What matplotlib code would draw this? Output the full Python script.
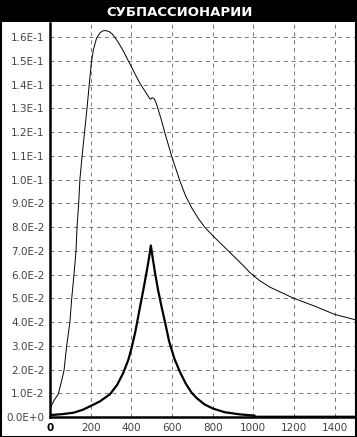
import numpy as np
import matplotlib
matplotlib.use("Agg")
import matplotlib.pyplot as plt
from matplotlib.patches import Rectangle

title = "СУБПАССИОНАРИИ"

# thin curve
thin_x = [0, 3, 20, 41, 55, 69, 82, 98, 106, 118, 128, 133, 141, 147, 158, 170,
          182, 193, 203, 213, 229, 246, 260, 274, 290, 303, 320, 336, 360, 385,
          415, 442, 470, 485, 493, 502, 512, 522, 532, 548, 565, 598, 639, 665,
          696, 730, 762, 800, 850, 900, 950, 983, 1030, 1081, 1196, 1310, 1400,
          1499]
thin_y = [0.0030, 0.0040, 0.0070, 0.0097, 0.0145, 0.0196, 0.0300, 0.0400, 0.0492,
          0.0600, 0.0700, 0.0800, 0.0900, 0.1000, 0.1100, 0.1200,
          0.1300, 0.1400, 0.1490, 0.1545, 0.1595, 0.1618, 0.1626, 0.1627, 0.1623,
          0.1615, 0.1598, 0.1577, 0.1542, 0.1500,
          0.1450, 0.1405, 0.1368, 0.1348, 0.1338, 0.1344, 0.1341, 0.1322, 0.1295,
          0.1250, 0.1196, 0.1099, 0.0994, 0.0935,
          0.0882, 0.0835, 0.0798, 0.0764, 0.0722, 0.0680, 0.0638, 0.0608, 0.0575,
          0.0547, 0.0501, 0.0464, 0.0432, 0.0410]

# thick curve
thick_x = [0, 60, 115, 160, 197, 246, 295, 330, 360, 385, 401, 420, 442, 460,
           475, 487, 496, 505, 516, 532, 549, 568, 586, 612, 639, 668, 696, 721,
           760, 803, 860, 934, 1005, 1007, 1500]
thick_y = [0.0008, 0.0012, 0.0018, 0.0030, 0.0045, 0.0066, 0.0096, 0.0135, 0.0185,
           0.0240, 0.0290, 0.0360, 0.0460, 0.0540, 0.0610, 0.0670, 0.0722,
           0.0670, 0.0610, 0.0532, 0.0463, 0.0390, 0.0318, 0.0245, 0.0190, 0.0140,
           0.0103, 0.0080, 0.0053, 0.0035, 0.0020, 0.0011, 0.0006, 0.0001, 0.0001]

x_ticks = [0, 200, 400, 600, 800, 1000, 1200, 1400]
y_ticks = [i / 100 for i in range(17)]
y_labels = ["0.0E+0"] + ["%d.0E-2" % i for i in range(1, 10)] + \
           ["1.%dE-1" % i for i in range(7)]

W, H = 357, 437
fig = plt.figure(figsize=(W / 100, H / 100), dpi=100)
fig.patch.set_facecolor("white")

# title bar and frame
fig.patches.append(Rectangle((0, 1 - 22 / H), 1, 22 / H, transform=fig.transFigure,
                             facecolor="black", edgecolor="none", zorder=0))
fig.patches.append(Rectangle((0.5 / W, 0.5 / H), 1 - 1.5 / W, 1 - 1 / H,
                             transform=fig.transFigure, facecolor="none",
                             edgecolor="black", linewidth=1.5, zorder=5))
fig.text(180 / W, 1 - 13 / H, title, color="white", fontsize=9.5,
         fontweight="bold", ha="center", va="center")

ax = fig.add_axes([50 / W, (H - 417) / H, 305 / W, (417 - 23) / H])
ax.set_xlim(0, 1500)
ax.set_ylim(0, 0.1659)

ax.plot(thin_x, thin_y, color="black", linewidth=0.7)
ax.plot(thick_x, thick_y, color="black", linewidth=1.6)

ax.set_xticks(x_ticks)
ax.set_xticklabels([str(v) for v in x_ticks])
ax.set_yticks(y_ticks)
ax.set_yticklabels(y_labels)
ax.tick_params(axis="both", length=0, labelsize=7.5, labelcolor="#444444", pad=4)
ax.get_xticklabels()[0].set_color("black")
ax.get_xticklabels()[0].set_fontweight("bold")

ax.grid(True, color="#777777", linestyle=(0, (4, 4)), linewidth=0.7)
for side in ["left", "bottom"]:
    ax.spines[side].set_linewidth(1.8)
ax.spines["top"].set_visible(False)
ax.spines["right"].set_visible(False)

fig.savefig("out.png", dpi=100)
